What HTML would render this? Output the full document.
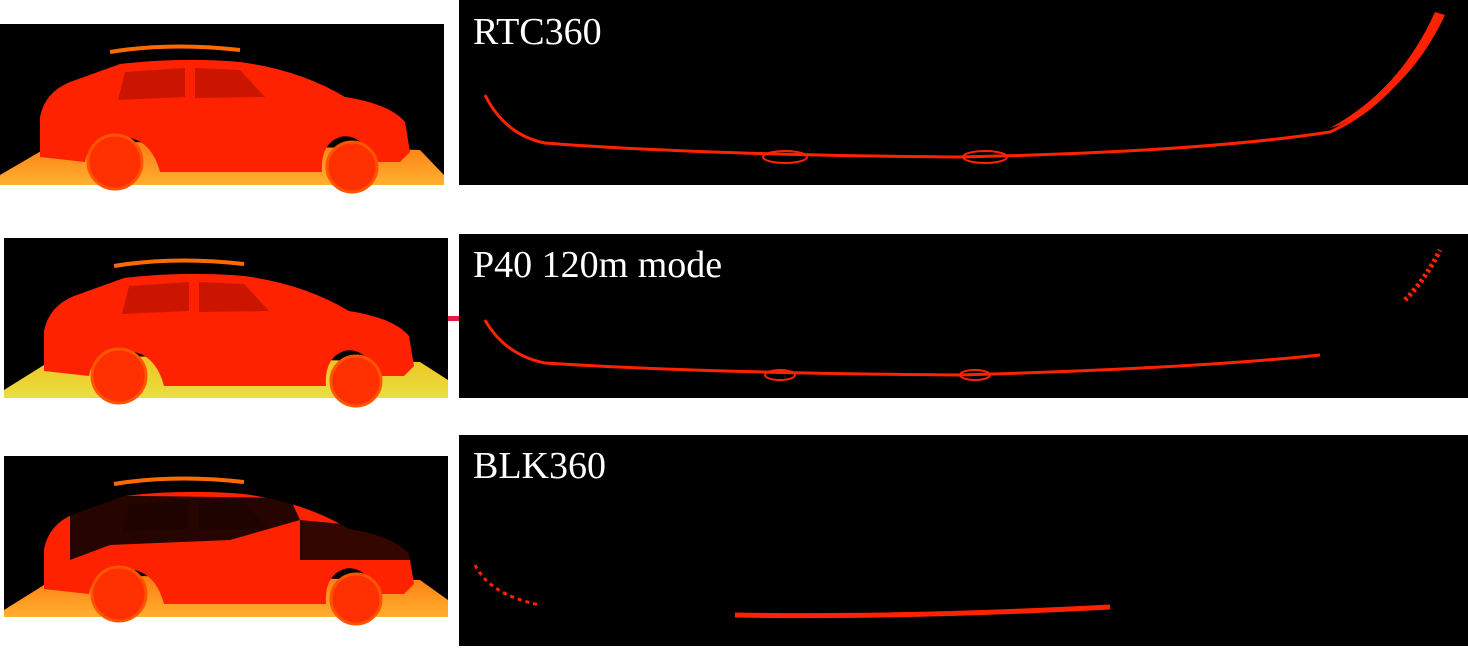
<!DOCTYPE html>
<html><head><meta charset="utf-8"><style>
html,body{margin:0;padding:0;background:#fff;width:1468px;height:648px;overflow:hidden}
svg{position:absolute;left:0;top:0}
text{font-family:"Liberation Serif",serif;fill:#fff;font-size:38px}
</style></head><body>
<svg width="1468" height="648" viewBox="0 0 1468 648">
<defs>
<linearGradient id="gnd" x1="0" y1="0" x2="0" y2="1"><stop offset="0" stop-color="#ff7a10"/><stop offset="1" stop-color="#ffb030"/></linearGradient>
<linearGradient id="gnd2" x1="0" y1="0" x2="0" y2="1"><stop offset="0" stop-color="#f0c020"/><stop offset="1" stop-color="#e8e040"/></linearGradient>
<g id="car">
<path d="M40 95 Q45 70 70 60 L120 42 Q180 35 240 40 Q300 48 345 75 Q390 82 405 100 L410 130 L400 140 L375 140 Q360 110 340 115 Q320 122 322 150 L160 150 Q150 112 115 115 Q88 120 85 140 L40 135 Z" fill="#ff2200"/>
<path d="M125 50 L185 46 L185 75 L118 78 Z M195 46 L240 48 L265 75 L195 76 Z" fill="#cc1500"/>
<circle cx="115" cy="140" r="27" fill="#ff3000" stroke="#ff5500" stroke-width="3"/>
<circle cx="352" cy="145" r="25" fill="#ff3000" stroke="#ff5500" stroke-width="3"/>
<path d="M110 30 Q170 20 240 28" stroke="#ff6a00" stroke-width="4" fill="none"/>
</g>
</defs>

<g>
<rect x="0" y="24" width="444" height="161" fill="#000"/>
<path d="M0 175 L60 140 L420 150 L444 175 L444 185 L0 185 Z" fill="url(#gnd)"/>
<use href="#car" transform="translate(0,22)"/>
</g>
<g>
<rect x="4" y="238" width="444" height="160" fill="#000"/>
<path d="M4 390 L60 355 L420 362 L448 380 L448 398 L4 398 Z" fill="url(#gnd2)"/>
<use href="#car" transform="translate(4,236)"/>
</g>
<g>
<rect x="4" y="456" width="444" height="161" fill="#000"/>
<path d="M4 610 L60 575 L420 580 L448 600 L448 617 L4 617 Z" fill="url(#gnd)"/>
<use href="#car" transform="translate(4,454)"/>
<path d="M70 495 L290 498 L300 520 L230 540 L110 545 L70 560 Z" fill="#000" opacity="0.85"/>
<path d="M300 520 L410 530 L410 560 L300 560 Z" fill="#000" opacity="0.8"/>
</g>
<rect x="448" y="316" width="12" height="5" fill="#e0204a"/>

<g>
<rect x="459" y="0" width="1009" height="185" fill="#000"/>
<path d="M485 95 Q505 135 545 143 Q700 155 960 157 Q1200 152 1330 132 Q1400 100 1440 15" stroke="#ff2200" stroke-width="3" fill="none"/>
<path d="M1340 125 Q1410 90 1445 15 L1435 12 Q1400 90 1330 128 Z" fill="#ff2200"/>
<ellipse cx="785" cy="157" rx="22" ry="6" fill="none" stroke="#ff2200" stroke-width="2"/>
<ellipse cx="985" cy="157" rx="22" ry="6" fill="none" stroke="#ff2200" stroke-width="2"/>
<text x="473" y="44">RTC360</text>
</g>
<g>
<rect x="459" y="234" width="1009" height="164" fill="#000"/>
<path d="M485 320 Q505 355 545 363 Q700 373 960 375 Q1200 368 1320 355" stroke="#ff2200" stroke-width="3" fill="none"/>
<path d="M1405 300 Q1425 280 1440 250" stroke="#ff2200" stroke-width="5" fill="none" stroke-dasharray="3 3"/>
<ellipse cx="780" cy="375" rx="15" ry="5" fill="none" stroke="#ff2200" stroke-width="2"/>
<ellipse cx="975" cy="375" rx="15" ry="5" fill="none" stroke="#ff2200" stroke-width="2"/>
<text x="473" y="277">P40 120m mode</text>
</g>
<g>
<rect x="459" y="435" width="1009" height="211" fill="#000"/>
<path d="M475 565 Q490 595 540 605" stroke="#ff2200" stroke-width="3" fill="none" stroke-dasharray="4 4"/>
<path d="M735 615 Q900 618 1110 607" stroke="#ff2200" stroke-width="5" fill="none"/>
<text x="473" y="478">BLK360</text>
</g>
</svg>
</body></html>
